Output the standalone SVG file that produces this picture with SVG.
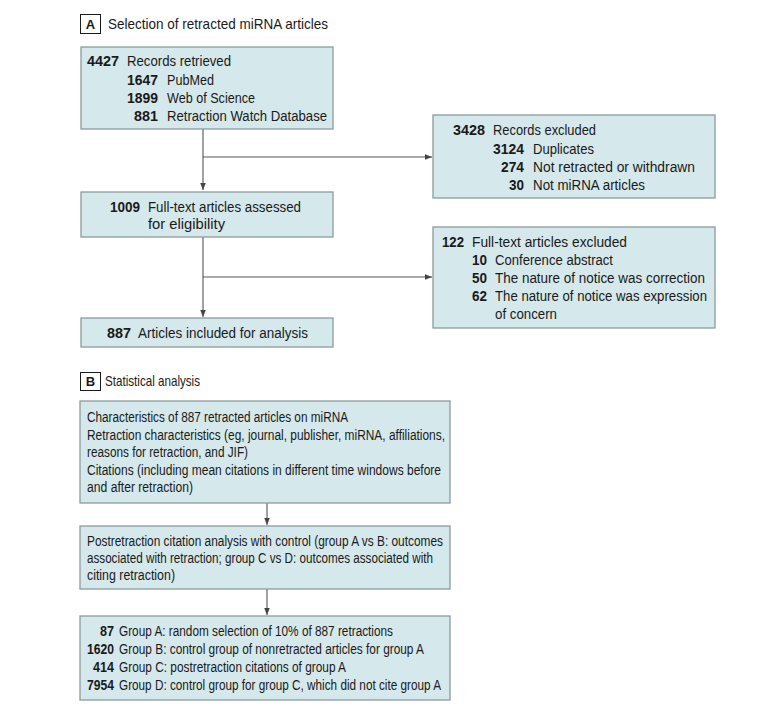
<svg xmlns="http://www.w3.org/2000/svg" width="780" height="715" viewBox="0 0 780 715">
<style>
text{font-family:"Liberation Sans",Arial,sans-serif;font-size:14px;fill:#1a1a1a}
.n{font-weight:bold;text-anchor:end}
.box{fill:#d5e8eb;stroke:#8c9c9e;stroke-width:1.3}
.lab{fill:#fff;stroke:#1a1a1a;stroke-width:1}
.lt{font-weight:bold;text-anchor:middle;font-size:13px}
.ttl{font-size:15px}
.c{fill:none;stroke:#555;stroke-width:1.1}
</style>
<defs>
<marker id="ah" viewBox="0 0 10 10" refX="10" refY="5" markerWidth="7" markerHeight="7" markerUnits="userSpaceOnUse" orient="auto">
<path d="M0,1 L10,5 L0,9 z" fill="#444"/>
</marker>
</defs>

<g id="labelA">
<rect class="lab" x="80.5" y="14.5" width="20" height="19"/>
<text class="lt" x="90.5" y="29">A</text>
<text class="ttl" x="108" y="29" textLength="220" lengthAdjust="spacingAndGlyphs">Selection of retracted miRNA articles</text>
</g>

<g id="labelB">
<rect class="lab" x="80.5" y="372.5" width="20" height="18"/>
<text class="lt" x="90.5" y="386">B</text>
<text class="ttl" x="105" y="386" textLength="95" lengthAdjust="spacingAndGlyphs">Statistical analysis</text>
</g>

<g id="connectors">
<path class="c" d="M203,129 V190" marker-end="url(#ah)"/>
<path class="c" d="M203,157 H432" marker-end="url(#ah)"/>
<path class="c" d="M203,237 V317" marker-end="url(#ah)"/>
<path class="c" d="M203,277 H432" marker-end="url(#ah)"/>
<path class="c" d="M267,503 V525" marker-end="url(#ah)"/>
<path class="c" d="M267,589 V615" marker-end="url(#ah)"/>
</g>

<g id="retrieved">
<rect class="box" x="81" y="47" width="252" height="82"/>
<text class="n" x="119" y="66" textLength="32" lengthAdjust="spacingAndGlyphs">4427</text>
<text x="127" y="66" textLength="104" lengthAdjust="spacingAndGlyphs">Records retrieved</text>
<text class="n" x="158" y="85" textLength="31" lengthAdjust="spacingAndGlyphs">1647</text>
<text x="167" y="85" textLength="47" lengthAdjust="spacingAndGlyphs">PubMed</text>
<text class="n" x="158" y="103" textLength="31" lengthAdjust="spacingAndGlyphs">1899</text>
<text x="167" y="103" textLength="88" lengthAdjust="spacingAndGlyphs">Web of Science</text>
<text class="n" x="158" y="121" textLength="24" lengthAdjust="spacingAndGlyphs">881</text>
<text x="167" y="121" textLength="160" lengthAdjust="spacingAndGlyphs">Retraction Watch Database</text>
</g>

<g id="excluded1">
<rect class="box" x="433" y="115" width="282" height="83"/>
<text class="n" x="485" y="135" textLength="32" lengthAdjust="spacingAndGlyphs">3428</text>
<text x="493" y="135" textLength="103" lengthAdjust="spacingAndGlyphs">Records excluded</text>
<text class="n" x="524" y="154" textLength="31" lengthAdjust="spacingAndGlyphs">3124</text>
<text x="533" y="154" textLength="61" lengthAdjust="spacingAndGlyphs">Duplicates</text>
<text class="n" x="524" y="172" textLength="23" lengthAdjust="spacingAndGlyphs">274</text>
<text x="533" y="172" textLength="162" lengthAdjust="spacingAndGlyphs">Not retracted or withdrawn</text>
<text class="n" x="524" y="190" textLength="15" lengthAdjust="spacingAndGlyphs">30</text>
<text x="533" y="190" textLength="112" lengthAdjust="spacingAndGlyphs">Not miRNA articles</text>
</g>

<g id="assessed">
<rect class="box" x="81" y="192" width="252" height="45"/>
<text class="n" x="140" y="212" textLength="30" lengthAdjust="spacingAndGlyphs">1009</text>
<text x="148" y="212" textLength="153" lengthAdjust="spacingAndGlyphs">Full-text articles assessed</text>
<text x="148" y="229" textLength="77" lengthAdjust="spacingAndGlyphs">for eligibility</text>
</g>

<g id="excluded2">
<rect class="box" x="433" y="227" width="282" height="101"/>
<text class="n" x="464" y="247" textLength="22" lengthAdjust="spacingAndGlyphs">122</text>
<text x="472" y="247" textLength="155" lengthAdjust="spacingAndGlyphs">Full-text articles excluded</text>
<text class="n" x="487" y="265" textLength="15" lengthAdjust="spacingAndGlyphs">10</text>
<text x="495" y="265" textLength="118" lengthAdjust="spacingAndGlyphs">Conference abstract</text>
<text class="n" x="487" y="283" textLength="15" lengthAdjust="spacingAndGlyphs">50</text>
<text x="495" y="283" textLength="210" lengthAdjust="spacingAndGlyphs">The nature of notice was correction</text>
<text class="n" x="487" y="301" textLength="15" lengthAdjust="spacingAndGlyphs">62</text>
<text x="495" y="301" textLength="212" lengthAdjust="spacingAndGlyphs">The nature of notice was expression</text>
<text x="495" y="319" textLength="62" lengthAdjust="spacingAndGlyphs">of concern</text>
</g>

<g id="included">
<rect class="box" x="81" y="318" width="252" height="29"/>
<text class="n" x="131" y="338" textLength="24" lengthAdjust="spacingAndGlyphs">887</text>
<text x="138" y="338" textLength="170" lengthAdjust="spacingAndGlyphs">Articles included for analysis</text>
</g>

<g id="characteristics">
<rect class="box" x="80" y="401" width="370" height="102"/>
<text x="87" y="422" textLength="261" lengthAdjust="spacingAndGlyphs">Characteristics of 887 retracted articles on miRNA</text>
<text x="87" y="440" textLength="358" lengthAdjust="spacingAndGlyphs">Retraction characteristics (eg, journal, publisher, miRNA, affiliations,</text>
<text x="87" y="457" textLength="161" lengthAdjust="spacingAndGlyphs">reasons for retraction, and JIF)</text>
<text x="87" y="475" textLength="354" lengthAdjust="spacingAndGlyphs">Citations (including mean citations in different time windows before</text>
<text x="87" y="492" textLength="106" lengthAdjust="spacingAndGlyphs">and after retraction)</text>
</g>

<g id="postretraction">
<rect class="box" x="80" y="526" width="370" height="63"/>
<text x="87" y="546" textLength="356" lengthAdjust="spacingAndGlyphs">Postretraction citation analysis with control (group A vs B: outcomes</text>
<text x="87" y="563" textLength="346" lengthAdjust="spacingAndGlyphs">associated with retraction; group C vs D: outcomes associated with</text>
<text x="87" y="580" textLength="88" lengthAdjust="spacingAndGlyphs">citing retraction)</text>
</g>

<g id="groups">
<rect class="box" x="80" y="616" width="370" height="84"/>
<text class="n" x="114" y="636" textLength="14" lengthAdjust="spacingAndGlyphs">87</text>
<text x="119" y="636" textLength="274" lengthAdjust="spacingAndGlyphs">Group A: random selection of 10% of 887 retractions</text>
<text class="n" x="114" y="654" textLength="27" lengthAdjust="spacingAndGlyphs">1620</text>
<text x="119" y="654" textLength="305" lengthAdjust="spacingAndGlyphs">Group B: control group of nonretracted articles for group A</text>
<text class="n" x="114" y="672" textLength="21" lengthAdjust="spacingAndGlyphs">414</text>
<text x="119" y="672" textLength="227" lengthAdjust="spacingAndGlyphs">Group C: postretraction citations of group A</text>
<text class="n" x="114" y="690" textLength="27" lengthAdjust="spacingAndGlyphs">7954</text>
<text x="119" y="690" textLength="322" lengthAdjust="spacingAndGlyphs">Group D: control group for group C, which did not cite group A</text>
</g>
</svg>
